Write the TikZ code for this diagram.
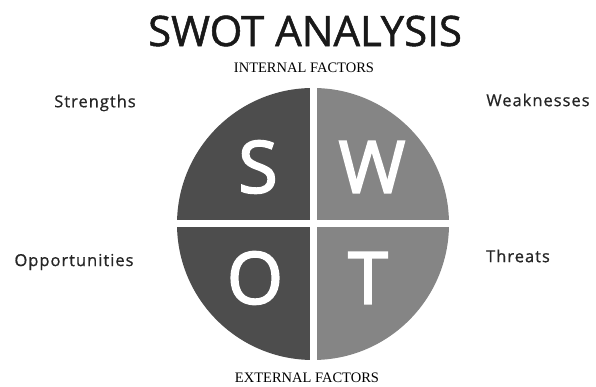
\documentclass[tikz,border=0pt]{standalone}
\usepackage{fontspec}
\setmainfont{Open Sans}
\newfontfamily\semifont{Open Sans}[FakeBold=1.2]
\newfontfamily\heavyfont{Open Sans}[FakeBold=2.5]
\newfontfamily\spacedfont{Open Sans}[FakeBold=0.8,LetterSpace=6]
\newfontfamily\capsfont{Liberation Serif}
\definecolor{darkq}{HTML}{4D4D4D}
\definecolor{lightq}{HTML}{858585}
\tikzset{
  quadletter/.style={text=white,font=\heavyfont\fontsize{72}{72}\selectfont},
  sidelabel/.style={text=black!85,font=\spacedfont\fontsize{16.5}{18}\selectfont},
  factorlabel/.style={font=\capsfont\fontsize{14.5}{16}\selectfont}
}
\begin{document}
\begin{tikzpicture}[x=1pt,y=1pt]
\useasboundingbox (0,0) rectangle (596,387);
\coordinate (ctr) at (313,163);
% the four quadrants
\fill[darkq] (ctr) -- ++(0,136) arc[start angle=90,end angle=270,radius=136] -- cycle;
\fill[lightq] (ctr) -- ++(0,136) arc[start angle=90,end angle=-90,radius=136] -- cycle;
\draw[white,line width=7pt] (ctr) ++(0,-140) -- ++(0,280);
\draw[white,line width=7pt] (ctr) ++(-140,0) -- ++(280,0);
\node[quadletter] (s) at (258,220) {S};
\node[quadletter] (w) at (372,220) {W};
\node[quadletter] (o) at (255,109) {O};
\node[quadletter] (t) at (368,109) {T};
% titles and labels
\node[font=\semifont\fontsize{42}{44}\selectfont,text=black!90] (title) at (305,356) {SWOT ANALYSIS};
\node[factorlabel] (internal) at (304,319) {INTERNAL FACTORS};
\node[factorlabel] (external) at (307,9) {EXTERNAL FACTORS};
\node[sidelabel] (strengths) at (95,284) {Strengths};
\node[sidelabel] (weaknesses) at (538,287) {Weaknesses};
\node[sidelabel] (opportunities) at (74,125) {Opportunities};
\node[sidelabel] (threats) at (518,131) {Threats};
\end{tikzpicture}
\end{document}
